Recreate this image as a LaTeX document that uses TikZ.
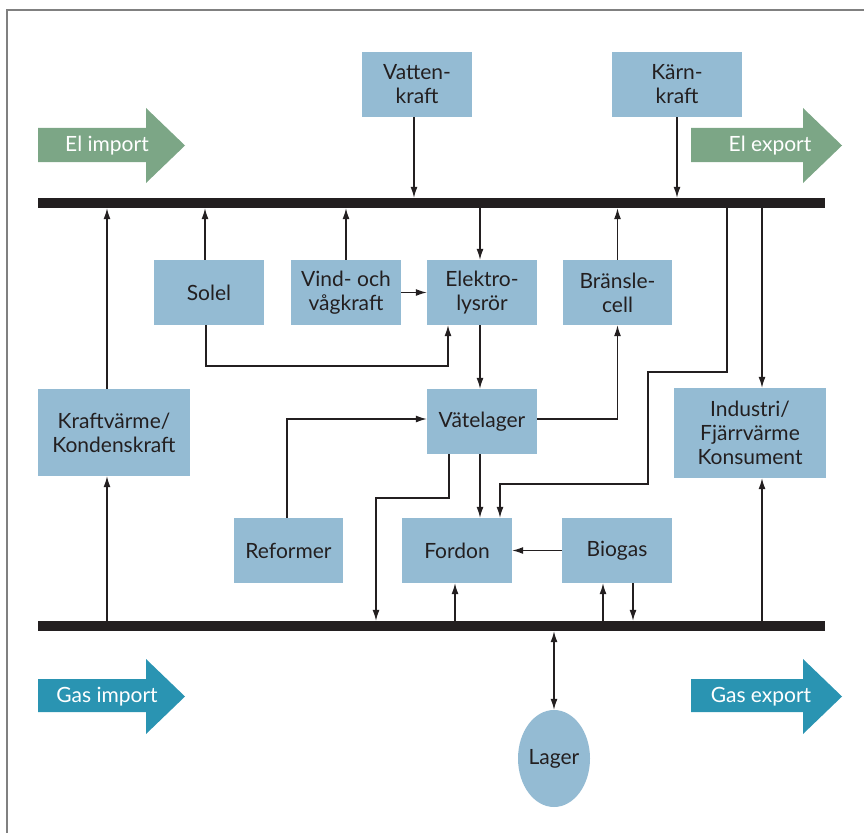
\documentclass[tikz,border=0pt]{standalone}
\usepackage{fontspec}
\setmainfont{Lato}
\usetikzlibrary{arrows.meta,shapes.geometric}

\definecolor{ink}{HTML}{231F20}
\definecolor{boxblue}{HTML}{94BBD3}
\definecolor{elgreen}{HTML}{7CA686}
\definecolor{gasteal}{HTML}{2A94B2}

\begin{document}
\begin{tikzpicture}
  [x=1pt, y=-1pt,
   box/.style={fill=boxblue, text=ink, align=center, inner sep=0,
     minimum width=110pt, minimum height=65pt,
     font=\fontsize{21}{24}\selectfont},
   bus/.style={fill=ink, inner sep=0, minimum width=787pt, minimum height=10pt},
   pil/.style={draw=ink, line width=1.3pt, -{Latex[length=11pt,width=7pt]}},
   lbl/.style={text=white, inner sep=0, font=\fontsize{21}{24}\selectfont}]
  \useasboundingbox (0,0) rectangle (864,832);
  \draw[gray, line width=1.5pt] (7,840) -- (7,10) -- (870,10);

  % big arrows
  \fill[elgreen] (38,128) -- (146,128) -- (146,108) -- (185,145.5) -- (146,183) -- (146,162) -- (38,162) -- cycle;
  \fill[elgreen] (691,128) -- (803,128) -- (803,108) -- (842,145.5) -- (803,183) -- (803,162) -- (691,162) -- cycle;
  \fill[gasteal] (38,679) -- (146,679) -- (146,659) -- (185,696.5) -- (146,734) -- (146,712) -- (38,712) -- cycle;
  \fill[gasteal] (691,679) -- (803,679) -- (803,659) -- (842,696.5) -- (803,734) -- (803,712) -- (691,712) -- cycle;
  \node[lbl] (elimp) at (107,146) {El import};
  \node[lbl] (elexp) at (770,146) {El export};
  \node[lbl] (gasimp) at (107,697) {Gas import};
  \node[lbl] (gasexp) at (761,697) {Gas export};

  % buses
  \node[bus] (elbus) at (431.5,203) {};
  \node[bus] (gasbus) at (431.5,626) {};

  % boxes
  \node[box] (vatten) at (417,84.5) {Vatten-\\kraft};
  \node[box, minimum width=130pt] (karn) at (677,84.5) {Kärn-\\kraft};
  \node[box] (solel) at (209,292.5) {Solel};
  \node[box] (vind) at (346,292.5) {Vind- och\\vågkraft};
  \node[box] (elektro) at (482,292.5) {Elektro-\\lysrör};
  \node[box, minimum width=109pt] (bransle) at (617.5,292.5) {Bränsle-\\cell};
  \node[box, minimum width=152pt, minimum height=87pt] (kraft) at (114,432.5) {Kraftvärme/\\Kondenskraft};
  \node[box] (vate) at (482,421.5) {Vätelager};
  \node[box, minimum width=152pt, minimum height=90pt] (industri) at (750,433) {Industri/\\Fjärrvärme\\Konsument};
  \node[box, minimum width=109pt] (reformer) at (288.5,550.5) {Reformer};
  \node[box] (fordon) at (457,550.5) {Fordon};
  \node[box] (biogas) at (617,550.5) {Biogas};
  \node[box, ellipse, minimum width=72pt, minimum height=97pt] (lager) at (554,758.5) {Lager};

  % el side
  \draw[pil] ([xshift=-3pt]vatten.south) -- ([xshift=-3pt]vatten.south |- elbus.north);
  \draw[pil] (karn.south) -- (karn.south |- elbus.north);
  \draw[pil] ([xshift=-7pt]kraft.north) -- ([xshift=-7pt]kraft.north |- elbus.south);
  \draw[pil] ([xshift=-4pt]solel.north) -- ([xshift=-4pt]solel.north |- elbus.south);
  \draw[pil] (vind.north) -- (vind.north |- elbus.south);
  \draw[pil] ([xshift=-2pt]elektro.north |- elbus.south) -- ([xshift=-2pt]elektro.north);
  \draw[pil] (bransle.north) -- (bransle.north |- elbus.south);
  \draw[pil] (vind.east) -- (elektro.west);
  \draw[pil] ([xshift=-3pt]solel.south) |- (448,366) -- ([xshift=-34pt]elektro.south);
  \draw[pil] ([xshift=-2pt]elektro.south) -- ([xshift=-2pt]vate.north);
  \draw[pil] ([xshift=-1.5pt]reformer.north) |- ([yshift=2.5pt]vate.west);
  \draw[pil] ([yshift=2.5pt]vate.east) -| (bransle.south);
  \draw[pil] ([xshift=-2pt]vate.south) -- ([xshift=-2pt]vate.south |- fordon.north);
  \draw[pil] ([xshift=12pt]industri.north |- elbus.south) -- ([xshift=12pt]industri.north);

  \coordinate (tap) at (727,372);
  \draw[pil] (tap |- elbus.south) -- (tap) -| (648,484) -| ([xshift=43pt]fordon.north);

  % gas side
  \coordinate (knee) at (376,498);
  \draw[pil] ([xshift=-33pt]vate.south) |- (knee) -- (knee |- gasbus.north);
  \draw[pil] ([xshift=-7pt]kraft.south |- gasbus.north) -- ([xshift=-7pt]kraft.south);
  \draw[pil] ([xshift=12pt]industri.south |- gasbus.north) -- ([xshift=12pt]industri.south);
  \draw[pil] (biogas.west) -- (fordon.east);
  \draw[pil] ([xshift=-2pt]fordon.south |- gasbus.north) -- ([xshift=-2pt]fordon.south);
  \draw[pil] ([xshift=-14pt]biogas.south |- gasbus.north) -- ([xshift=-14pt]biogas.south);
  \draw[pil] ([xshift=16pt]biogas.south) -- ([xshift=16pt]biogas.south |- gasbus.north);
  \draw[pil, {Latex[length=11pt,width=7pt]}-{Latex[length=11pt,width=7pt]}] (lager.north |- gasbus.south) -- (lager.north);
\end{tikzpicture}
\end{document}
